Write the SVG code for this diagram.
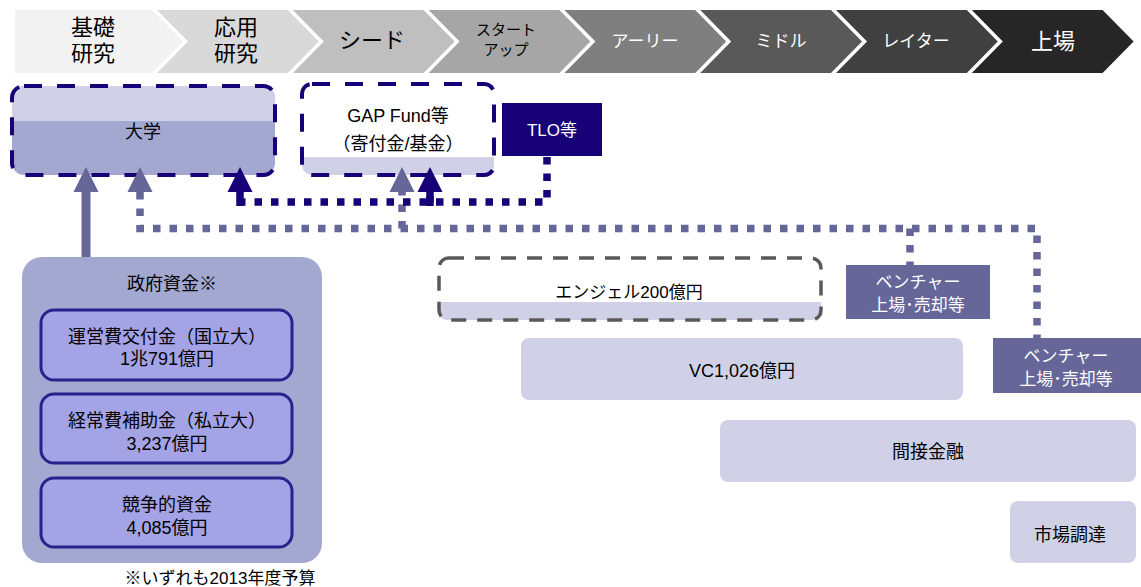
<svg xmlns="http://www.w3.org/2000/svg" width="1141" height="587" viewBox="0 0 1141 587">
<style>
text{font-family:"Liberation Sans","Noto Sans CJK JP",sans-serif;text-anchor:middle;fill:#000}
.w{fill:#fff}
.t22{font-size:22px}
.t18{font-size:18px}
.t17{font-size:17px}
.t15{font-size:15px}
.lav{fill:#d0d1e7}
.mid{fill:#a3a8d0}
.sub{fill:#a3a3e6;stroke:#24248c;stroke-width:3}
.vb{fill:#666699}
.dn{fill:none;stroke:#170078;stroke-width:4;stroke-dasharray:18 15}
.dg{fill:none;stroke:#595959;stroke-width:3.5;stroke-dasharray:15 11}
.cg{fill:none;stroke:#666699;stroke-width:7.5;stroke-dasharray:7.5 9}
.cn{fill:none;stroke:#170078;stroke-width:7.5;stroke-dasharray:7.5 9}
</style>
<g id="stages">
<path d="M15,10 H152 L183,41.5 L152,73 H15 Z" fill="#f2f2f2"/>
<path d="M157,10 H287.8 L318.8,41.5 L287.8,73 H157 L188,41.5 Z" fill="#d9d9d9"/>
<path d="M292.8,10 H423.6 L454.6,41.5 L423.6,73 H292.8 L323.8,41.5 Z" fill="#bfbfbf"/>
<path d="M428.6,10 H559.4 L590.4,41.5 L559.4,73 H428.6 L459.6,41.5 Z" fill="#a6a6a6"/>
<path d="M564.4,10 H695.2 L726.2,41.5 L695.2,73 H564.4 L595.4,41.5 Z" fill="#7f7f7f"/>
<path d="M700.2,10 H831 L862,41.5 L831,73 H700.2 L731.2,41.5 Z" fill="#595959"/>
<path d="M836,10 H966.8 L997.8,41.5 L966.8,73 H836 L867,41.5 Z" fill="#404040"/>
<path d="M971.8,10 H1102.6 L1133.6,41.5 L1102.6,73 H971.8 L1002.8,41.5 Z" fill="#262626"/>
<text class="t22" x="93" y="35">基礎</text>
<text class="t22" x="93" y="61">研究</text>
<text class="t22" x="236" y="35">応用</text>
<text class="t22" x="236" y="61">研究</text>
<text class="t22" x="372" y="48">シード</text>
<text class="t15" x="506" y="35">スタート</text>
<text class="t15" x="506" y="55">アップ</text>
<text class="t17 w" x="645" y="47">アーリー</text>
<text class="t17 w" x="781" y="47">ミドル</text>
<text class="t17 w" x="916" y="47">レイター</text>
<text class="t22 w" x="1053" y="49">上場</text>
</g>
<g id="daigaku">
<rect class="mid" x="12" y="86" width="263" height="89" rx="12"/>
<path class="lav" d="M24,86 H263 A12,12 0 0 1 275,98 V121 H12 V98 A12,12 0 0 1 24,86 Z"/>
<rect class="dn" x="12" y="86" width="263" height="89" rx="12"/>
<text class="t18" x="143" y="138">大学</text>
</g>
<g id="gapfund">
<rect x="302" y="84" width="192" height="91" rx="10" fill="#fff"/>
<path class="lav" d="M302,157 H494 V165 A10,10 0 0 1 484,175 H312 A10,10 0 0 1 302,165 Z"/>
<rect class="dn" x="302" y="84" width="192" height="91" rx="10"/>
<text class="t18" x="398" y="122">GAP Fund等</text>
<text class="t18" x="398" y="150">（寄付金/基金）</text>
</g>
<g id="tlo">
<rect x="502" y="103" width="100" height="53" fill="#170078"/>
<text class="t17 w" x="552" y="136">TLO等</text>
</g>
<g id="gov">
<rect class="mid" x="22" y="257" width="300" height="306" rx="20"/>
<text class="t18" x="172" y="290">政府資金※</text>
<rect class="sub" x="41" y="310" width="251" height="70" rx="13"/>
<text class="t18" x="167" y="343">運営費交付金（国立大）</text>
<text class="t18" x="167" y="365">1兆791億円</text>
<rect class="sub" x="41" y="394" width="251" height="69" rx="13"/>
<text class="t18" x="167" y="427">経常費補助金（私立大）</text>
<text class="t18" x="167" y="450">3,237億円</text>
<rect class="sub" x="41" y="478" width="251" height="69" rx="13"/>
<text class="t18" x="167" y="511">競争的資金</text>
<text class="t18" x="167" y="534">4,085億円</text>
</g>
<g id="note">
<text class="t17" x="220" y="584">※いずれも2013年度予算</text>
</g>
<g id="angel">
<path class="lav" d="M439,302 H821 V312 A8,8 0 0 1 813,320 H447 A8,8 0 0 1 439,312 Z"/>
<rect class="dg" x="439" y="258" width="382" height="62" rx="10"/>
<text class="t17" x="629" y="298">エンジェル200億円</text>
</g>
<g id="venture1">
<rect class="vb" x="846" y="265" width="144" height="54"/>
<text class="t17 w" x="918" y="288">ベンチャー</text>
<text class="t17 w" x="918" y="311">上場･売却等</text>
</g>
<g id="venture2">
<rect class="vb" x="993" y="338" width="148" height="55"/>
<text class="t17 w" x="1066" y="362">ベンチャー</text>
<text class="t17 w" x="1066" y="385">上場･売却等</text>
</g>
<g id="vc">
<rect class="lav" x="521" y="338" width="442" height="62" rx="8"/>
<text class="t18" x="742" y="377">VC1,026億円</text>
</g>
<g id="indirect">
<rect class="lav" x="720" y="420" width="416" height="62" rx="8"/>
<text class="t18" x="928" y="458">間接金融</text>
</g>
<g id="market">
<rect class="lav" x="1010" y="501" width="126" height="62" rx="8"/>
<text class="t18" x="1070" y="541">市場調達</text>
</g>
<g id="connectors">
<path class="cg" d="M140,192 V228.5 H1037 V338"/>
<path class="cg" d="M910,228.5 V265"/>
<path class="cg" d="M402,228.5 V192"/>
<path class="cn" d="M547,157 V202 H240"/>
<path class="cn" d="M430,202 V196"/>
<line x1="86" y1="257" x2="86" y2="190" stroke="#666699" stroke-width="9"/>
<polygon points="86,167 73.5,192 98.5,192" fill="#666699"/>
<polygon points="140,167 127.5,192 152.5,192" fill="#666699"/>
<polygon points="402,167 389.5,192 414.5,192" fill="#666699"/>
<rect x="236.25" y="190" width="7.5" height="16" fill="#170078"/>
<polygon points="240,167 227.5,192 252.5,192" fill="#170078"/>
<rect x="426.25" y="190" width="7.5" height="16" fill="#170078"/>
<polygon points="430,167 417.5,192 442.5,192" fill="#170078"/>
</g>
</svg>
